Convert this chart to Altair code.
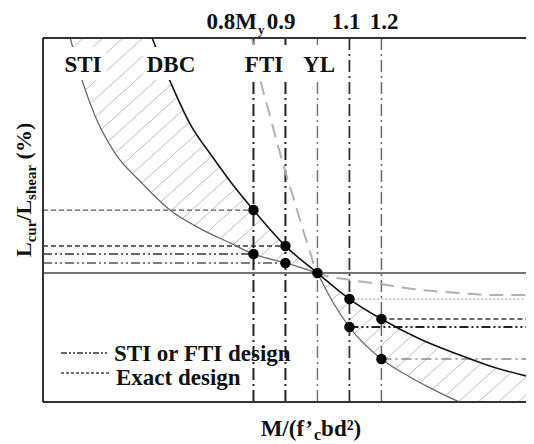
import altair as alt
import numpy as np
import pandas as pd

# ---------------- data ----------------
# x : M/(f'c b d^2) expressed as a fraction of M_y ; y : L_cur/L_shear (%)
sti_x = [0.227, 0.267, 0.305, 0.367, 0.445, 0.539, 0.642, 0.727, 0.80, 0.90, 1.00]
sti_y = [282.2, 247.3, 221.7, 193.0, 171.3, 148.8, 133.3, 123.3, 114.7, 107.8, 100.0]

dbc_x = [0.483, 0.539, 0.602, 0.670, 0.736, 0.80, 0.90, 1.00, 1.10, 1.20, 1.320, 1.445, 1.539, 1.652]
dbc_y = [282.2, 248.8, 215.5, 190.7, 168.2, 148.8, 120.9, 100.0, 79.8, 64.3, 48.8, 36.4, 27.9, 20.2]

low_x = [1.00, 1.048, 1.10, 1.20, 1.289, 1.352, 1.445, 1.523]
low_y = [100.0, 77.5, 58.1, 33.3, 19.4, 10.9, 0.0, -6.2]

yl_x = [0.795, 0.820, 0.845, 0.870, 0.898, 0.927, 0.955, 0.977, 1.00, 1.086, 1.195, 1.298, 1.445, 1.561, 1.652]
yl_y = [282.2, 251.2, 227.9, 204.7, 179.8, 156.6, 133.3, 116.3, 100.0, 95.3, 91.5, 87.6, 84.5, 82.9, 82.9]

ratios = [0.8, 0.9, 1.0, 1.1, 1.2]                 # vertical dash-dot lines
exact_x = [0.8, 0.9, 1.0, 1.1, 1.2]                # "Exact design" points (on DBC)
exact_y = [148.8, 120.9, 100.0, 79.8, 64.3]
design_x = [0.8, 0.9, 1.1, 1.2]                    # "STI or FTI design" points
design_y = [114.7, 107.8, 58.1, 33.3]
ref_level = 100.0

# ---------------- layout ----------------
X0, X1 = 0.142, 1.652
Y0, Y1 = 0.0, 282.2
W, H = 483, 364
FONT = "Liberation Serif"

xs = alt.Scale(domain=[X0, X1], nice=False, zero=False)
ys = alt.Scale(domain=[Y0, Y1], nice=False, zero=False)


def X(f):
    return alt.X(f, type="quantitative", scale=xs, axis=None)


def Y(f):
    return alt.Y(f, type="quantitative", scale=ys, axis=None)


one = pd.DataFrame({"k": [0]})
layers = []

# hatch texture (decoration), later masked outside the band
step = 20 / 320
run = (Y1 - Y0) * 1.29 / 0.9 / 320
hx = np.arange(X0 - run, X1, step)
hatch = pd.DataFrame({"x": hx, "x2": hx + run, "y": Y0, "y2": Y1})
layers.append(
    alt.Chart(hatch).mark_rule(color="#ababab", strokeWidth=0.8, clip=True)
    .encode(x=X("x"), x2="x2", y=Y("y"), y2="y2")
)

# white masks outside the hatched band
sti_df = pd.DataFrame({"x": sti_x, "y": sti_y, "b": Y0})
dbc_df = pd.DataFrame({"x": dbc_x, "y": dbc_y, "t": Y1})
low_df = pd.DataFrame({"x": low_x, "y": low_y, "b": Y0})
mk = dict(color="white", opacity=1, interpolate="monotone", clip=True, orient="vertical")
layers += [
    alt.Chart(sti_df).mark_area(**mk).encode(x=X("x"), y=Y("y"), y2="b"),
    alt.Chart(dbc_df).mark_area(**mk).encode(x=X("x"), y=Y("y"), y2="t"),
    alt.Chart(low_df).mark_area(**mk).encode(x=X("x"), y=Y("y"), y2="b"),
    alt.Chart(pd.DataFrame({"x": [X0], "x2": [sti_x[0]], "y": [Y0], "y2": [Y1]}))
    .mark_rect(color="white").encode(x=X("x"), x2="x2", y=Y("y"), y2="y2"),
]

# reference level line
layers.append(
    alt.Chart(pd.DataFrame({"x": [X0], "x2": [X1], "y": [ref_level]}))
    .mark_rule(color="#444444", strokeWidth=1.5).encode(x=X("x"), x2="x2", y=Y("y"))
)

# horizontal projection lines
DASH = [5, 3]
DDD = [9, 3, 2, 3, 2, 3]
exact_style = {0.8: ("#555555", 1.2, DASH), 0.9: ("#333333", 1.4, DASH),
               1.1: ("#aaaaaa", 1.2, [2, 2]), 1.2: ("#333333", 1.4, DASH)}
design_style = {0.8: ("#333333", 1.6, DDD), 0.9: ("#555555", 1.4, DDD),
                1.1: ("#222222", 2.0, DDD), 1.2: ("#888888", 1.6, [10, 4, 2, 4])}
for xv, yv in zip(exact_x, exact_y):
    if xv == 1.0:
        continue
    c, w, d = exact_style[xv]
    a, b = (X0, xv) if xv < 1 else (xv, X1)
    layers.append(
        alt.Chart(pd.DataFrame({"x": [a], "x2": [b], "y": [yv]}))
        .mark_rule(color=c, strokeWidth=w, strokeDash=d).encode(x=X("x"), x2="x2", y=Y("y"))
    )
for xv, yv in zip(design_x, design_y):
    c, w, d = design_style[xv]
    a, b = (X0, xv) if xv < 1 else (xv, X1)
    layers.append(
        alt.Chart(pd.DataFrame({"x": [a], "x2": [b], "y": [yv]}))
        .mark_rule(color=c, strokeWidth=w, strokeDash=d).encode(x=X("x"), x2="x2", y=Y("y"))
    )

# vertical dash-dot lines
v_style = {0.8: ("#222222", 2.0), 0.9: ("#222222", 2.0), 1.0: ("#777777", 1.5),
           1.1: ("#333333", 1.8), 1.2: ("#666666", 1.5)}
for xv in ratios:
    c, w = v_style[xv]
    layers.append(
        alt.Chart(pd.DataFrame({"x": [xv], "y": [Y0], "y2": [Y1]}))
        .mark_rule(color=c, strokeWidth=w, strokeDash=[12, 4, 2, 4]).encode(x=X("x"), y=Y("y"), y2="y2")
    )

# curves
yl_df = pd.DataFrame({"x": yl_x, "y": yl_y})
layers += [
    alt.Chart(yl_df).mark_line(color="#b0b0b0", strokeWidth=2, strokeDash=[14, 8],
                               interpolate="monotone", clip=True).encode(x=X("x"), y=Y("y")),
    alt.Chart(sti_df).mark_line(color="#6a6a6a", strokeWidth=1.3, interpolate="monotone",
                                clip=True).encode(x=X("x"), y=Y("y")),
    alt.Chart(low_df).mark_line(color="#6a6a6a", strokeWidth=1.3, interpolate="monotone",
                                clip=True).encode(x=X("x"), y=Y("y")),
    alt.Chart(dbc_df).mark_line(color="#151515", strokeWidth=1.6, interpolate="monotone",
                                clip=True).encode(x=X("x"), y=Y("y")),
]

# points
pts = pd.DataFrame({"x": exact_x + design_x, "y": exact_y + design_y})
layers.append(
    alt.Chart(pts).mark_circle(size=110, color="black", opacity=1).encode(x=X("x"), y=Y("y"))
)


# ---------------- annotations ----------------
def box(x, x2, y, y2):
    return alt.Chart(one).mark_rect(color="white").encode(
        x=alt.value(x), x2=alt.value(x2), y=alt.value(y), y2=alt.value(y2))


def text(s, x, y, size=23, align="center", angle=0, color="#111111"):
    return alt.Chart(one).mark_text(
        text=s, font=FONT, fontSize=size, fontWeight="bold", align=align,
        baseline="alphabetic", angle=angle, color=color
    ).encode(x=alt.value(x), y=alt.value(y))


def rule_px(x, x2, y, color="#333333", w=2.0, dash=None):
    kw = dict(color=color, strokeWidth=w)
    if dash:
        kw["strokeDash"] = dash
    return alt.Chart(one).mark_rule(**kw).encode(
        x=alt.value(x), x2=alt.value(x2), y=alt.value(y))


layers += [
    box(19, 63, 9, 42),     # STI
    box(100, 157, 9, 42),   # DBC
    box(199, 249, 7, 41),   # FTI
    box(259, 297, 7, 41),   # YL
]

# frame (left, top, bottom)
layers += [
    alt.Chart(one).mark_rule(color="#333333", strokeWidth=2).encode(
        x=alt.value(0), y=alt.value(0), y2=alt.value(H)),
    rule_px(0, W, 0),
    rule_px(0, W, H),
]

# labels inside the plot
layers += [
    text("STI", 40, 34), text("DBC", 128, 34), text("FTI", 221, 34), text("YL", 276, 34),
]

# labels above the plot
layers += [
    text("0.8M", 214, -9, align="right"),
    text("y", 215, -4, size=13, align="left"),
    text("0.9", 238, -9), text("1.1", 303, -9), text("1.2", 341, -9),
]

# legend
layers += [
    rule_px(18, 66, 315, color="#333333", w=1.5, dash=[6, 2, 2, 2, 2, 2]),
    rule_px(18, 66, 335, color="#444444", w=1.5, dash=[3, 2]),
    text("STI or FTI design", 71, 323, align="left"),
    text("Exact design", 73, 347, align="left"),
]

# x title: M/(f'c bd²)
TW = {"L": 0.667, "c": 0.444, "u": 0.556, "r": 0.444, "/": 0.278, "s": 0.389, "h": 0.556,
      "e": 0.444, "a": 0.5, " ": 0.25, "(": 0.333, "%": 1.0, ")": 0.333}


def wid(s, size):
    return sum(TW[ch] for ch in s) * size


layers += [
    text("M/(f\u2019", 270, 398, align="right"),
    text("c", 271, 402, size=16, align="left"),
    text("bd\u00b2)", 271 + wid("c", 16), 398, align="left"),
]

# y title (rotated): L_cur/L_shear (%)
pos = 219.0
bx = -12
for s, size, shift in [("L", 22, 0), ("cur", 15, 5), ("/L", 22, 0), ("shear", 15, 5), ("(%)", 22, 0)]:
    if s == "(%)":
        pos -= wid(" ", 22)
    layers.append(text(s, bx + shift, pos, size=size, align="left", angle=270))
    pos -= wid(s, size)

chart = alt.layer(*layers).properties(
    width=W, height=H,
    padding={"left": 35, "top": 30, "right": 0, "bottom": 42},
    autosize=alt.AutoSizeParams(type="none"),
    background="white",
).configure_view(stroke=None)

chart.save("out.html", embed_options={"renderer": "svg", "actions": False})
